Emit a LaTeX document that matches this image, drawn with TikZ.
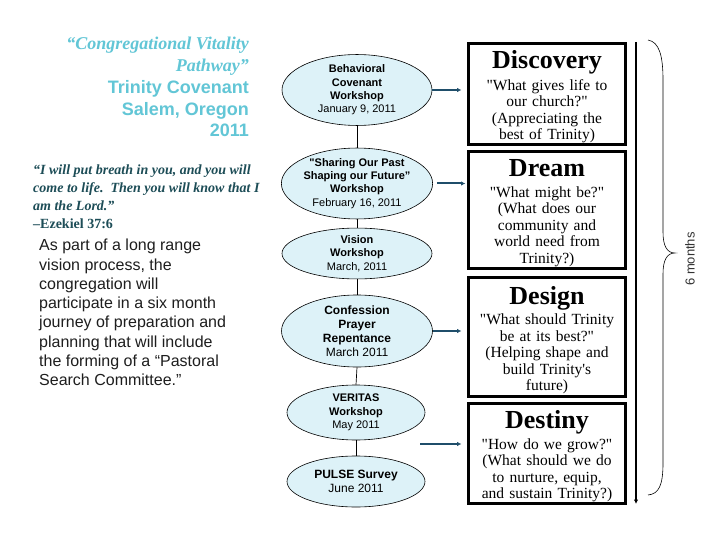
\documentclass[tikz,border=0pt]{standalone}
\usepackage{fontspec}
\setmainfont{Liberation Serif}
\setsansfont{Liberation Sans}
\usetikzlibrary{shapes.geometric,arrows.meta}
\definecolor{titlecyan}{HTML}{62C6D6}
\definecolor{quoteteal}{HTML}{1D4D57}
\definecolor{ellfill}{HTML}{DDF2F8}
\definecolor{arrowblue}{HTML}{1F4E6A}
\definecolor{bodytext}{HTML}{1E1E1E}
\newcommand\sq{\textquotedbl}
\newcommand\ap{\textquotesingle}
\newcommand\phtitle[1]{{\fontsize{26}{26}\selectfont\bfseries #1\par}\vspace{4pt}}
\newcommand\phend{\par\kern-6pt}
\begin{document}
\begin{tikzpicture}[x=1pt,y=-1pt,
  evt/.style={ellipse,draw=black,line width=0.6pt,fill=ellfill,inner sep=0pt,align=center,
     font=\sffamily\fontsize{11}{13.3}\selectfont},
  evtbig/.style={evt,font=\sffamily\fontsize{12}{14}\selectfont},
  phase/.style={rectangle,draw=black,line width=3pt,minimum width=157pt,inner sep=0pt,
     text width=150pt,align=center,font=\fontsize{15.5}{16.5}\selectfont},
  link/.style={draw=black,line width=0.7pt},
  arr/.style={draw=arrowblue,line width=2pt,-{Latex[length=4.5pt,width=4.5pt]}},
]
\useasboundingbox (0,0) rectangle (720,540);
\fill[white] (0,0) rectangle (720,540);

% left title
\node[anchor=north east,inner sep=0pt,align=right,text=titlecyan,
      font=\fontsize{18}{21.8}\selectfont] (title) at (249,37)
  {\bfseries\itshape “Congregational Vitality\\
   \bfseries\itshape Pathway”\\
   \sffamily\bfseries Trinity Covenant\\
   \sffamily\bfseries Salem, Oregon\\
   \sffamily\bfseries 2011};

% quote
\node[anchor=north west,inner sep=0pt,align=left,text=quoteteal,
      font=\fontsize{14}{17.7}\selectfont] (quote) at (33,165)
  {\bfseries\itshape “I will put breath in you, and you will\\
   \bfseries\itshape come to life.\ \ Then you will know that I\\
   \bfseries\itshape am the Lord.”\\
   \bfseries –Ezekiel 37:6};

% paragraph
\node[anchor=north west,inner sep=0pt,align=left,text=bodytext,
      font=\sffamily\fontsize{16}{19.3}\selectfont] (para) at (39,239)
  {As part of a long range\\
   vision process, the\\
   congregation will\\
   participate in a six month\\
   journey of preparation and\\
   planning that will include\\
   the forming of a “Pastoral\\
   Search Committee.”};

% events
\node[evt,minimum width=150pt,minimum height=62pt] (e1) at (357,90)
  {\textbf{Behavioral}\\\textbf{Covenant}\\\textbf{Workshop}\\January 9, 2011};
\node[evt,minimum width=151pt,minimum height=63pt] (e2) at (357,183.5)
  {\textbf{\sq Sharing Our Past}\\\textbf{Shaping our Future”}\\\textbf{Workshop}\\February 16, 2011};
\node[evt,minimum width=150pt,minimum height=47pt] (e3) at (357,253.5)
  {\textbf{Vision}\\\textbf{Workshop}\\March, 2011};
\node[evtbig,minimum width=151pt,minimum height=72pt] (e4) at (357,331)
  {\textbf{Confession}\\\textbf{Prayer}\\\textbf{Repentance}\\March 2011};
\node[evt,minimum width=138pt,minimum height=55pt] (e5) at (356,412.5)
  {\textbf{VERITAS}\\\textbf{Workshop}\\May 2011};
\node[evtbig,minimum width=138pt,minimum height=51pt] (e6) at (356,481.5)
  {\textbf{PULSE Survey}\\June 2011};

\draw[link] (e1.south) -- (e2.north);
\draw[link] (e2.south) -- (e3.north);
\draw[link] (e3.south) -- (e4.north);
\draw[link] (e4.south) -- (e5.north);
\draw[link] (e5.south) -- (e6.north);

% phase boxes
\node[phase,minimum height=101pt] (b1) at (547,94)
  {\phtitle{Discovery}
   \sq What gives life to\\ our church?\sq\\ (Appreciating the\\ best of Trinity)\phend};
\node[phase,minimum height=117pt] (b2) at (547,210)
  {\phtitle{Dream}
   \sq What might be?\sq\\ (What does our\\ community and\\ world need from\\ Trinity?)\phend};
\node[phase,minimum height=119pt] (b3) at (547,337)
  {\phtitle{Design}
   \sq What should Trinity\\ be at its best?\sq\\ (Helping shape and\\ build Trinity\ap s\\ future)\phend};
\node[phase,minimum height=100pt] (b4) at (547,453.5)
  {\phtitle{Destiny}
   \sq How do we grow?\sq\\ (What should we do\\ to nurture, equip,\\ and sustain Trinity?)\phend};

% arrows
\draw[arr,shorten >=5.5pt] (e1.east) -- (e1.east -| b1.west);
\draw[arr,shorten >=5.5pt] ([xshift=4pt]e2.east) -- ([xshift=4pt]e2.east -| b2.west);
\draw[arr,shorten >=5.5pt] (e4.east) -- (e4.east -| b3.west);
\coordinate (f4) at (420,444);
\draw[arr,shorten >=5.5pt] (f4) -- (f4 -| b4.west);

% timeline
\coordinate (vt) at (636,42);
\coordinate (vb) at (636,504);
\draw[line width=2pt,-{Latex[length=4.5pt,width=4.5pt]}] (vt) -- (vb);

% brace
\draw[line width=0.6pt] (648,40) .. controls (659,42) and (663,55) .. (663,80)
  -- (663,232) .. controls (663,246) and (667,253) .. (675,253)
  .. controls (667,253) and (663,260) .. (663,274)
  -- (663,463) .. controls (663,485) and (659,494) .. (648,495);
\node[rotate=90,text=black!80,font=\sffamily\fontsize{13}{13}\selectfont] (six) at (690,259) {6 months};
\end{tikzpicture}
\end{document}
